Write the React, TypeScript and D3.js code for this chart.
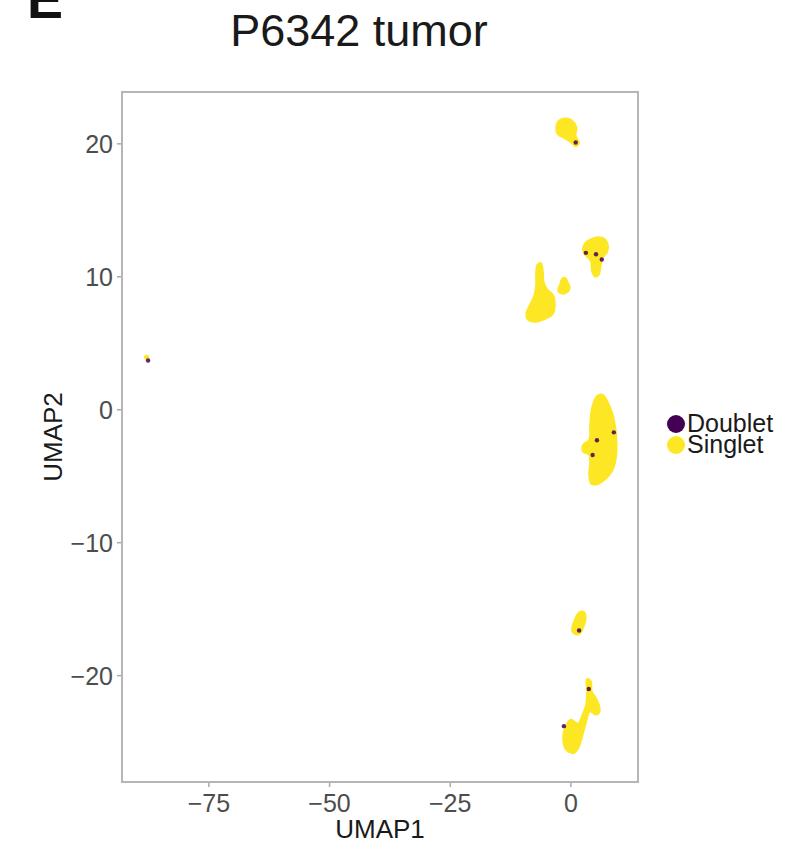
import React from "react";
import * as d3 from "d3";

// Cluster outlines (UMAP coordinates) of densely packed singlet cells
const clusterA: [number, number][] = [[-2.3,21.8],[-0.6,21.9],[0.6,21.65],[1.2,21.2],[1.0,20.6],[1.7,20.1],[1.0,19.8],[0.0,20.1],[-1.2,20.4],[-2.7,20.7],[-3.1,21.2]];
const clusterB: [number, number][] = [[3.9,12.8],[5.6,13.0],[7.0,12.85],[7.7,12.4],[7.45,11.8],[6.6,11.45],[6.2,10.85],[5.8,10.15],[5.0,10.0],[4.35,10.4],[4.15,11.15],[3.5,11.45],[2.7,11.75],[2.5,12.25],[3.1,12.6]];
const clusterC: [number, number][] = [[-7.0,10.9],[-6.2,11.05],[-5.8,10.5],[-5.6,9.6],[-4.75,9.0],[-3.7,8.65],[-3.3,7.9],[-3.7,7.2],[-5.2,6.85],[-7.25,6.6],[-8.9,6.75],[-9.3,7.2],[-8.5,7.9],[-7.65,8.55],[-7.25,9.4],[-7.25,10.15]];
const clusterD: [number, number][] = [[-1.85,9.85],[-1.05,9.92],[-0.6,9.55],[-0.2,9.25],[-0.6,8.87],[-1.85,8.72],[-2.7,8.95],[-2.3,9.4]];
const clusterE: [number, number][] = [[5.4,1.05],[6.6,1.13],[7.65,0.6],[8.7,-0.38],[9.3,-1.5],[9.5,-2.63],[9.3,-3.76],[8.5,-4.66],[7.05,-5.26],[5.2,-5.64],[4.15,-5.56],[3.75,-4.89],[3.95,-3.91],[3.75,-3.38],[2.5,-3.16],[2.5,-2.63],[3.75,-2.26],[3.95,-1.13],[4.35,0.15]];
const clusterF: [number, number][] = [[1.65,-15.25],[2.7,-15.2],[3.1,-15.55],[2.7,-16.25],[1.85,-16.85],[0.85,-16.9],[0.2,-16.6],[0.6,-15.95]];
const clusterG: [number, number][] = [[3.3,-20.25],[4.15,-20.4],[4.35,-21.2],[5.4,-21.8],[6.0,-22.7],[5.2,-22.95],[3.95,-22.7],[3.1,-23.6],[2.3,-24.65],[1.65,-25.4],[0.6,-25.85],[-1.05,-25.55],[-1.65,-24.8],[-1.25,-23.9],[0.0,-23.3],[1.45,-23.6],[2.3,-23.0],[3.1,-22.2],[3.3,-21.2]];
const singletClusters = [clusterA, clusterB, clusterC, clusterD, clusterE, clusterF, clusterG];

// Isolated singlet cells
const singletPoints: [number, number][] = [[-87.9, 3.95]];

// Doublet cells
const doubletPoints: [number, number][] = [[1.0,20.1],[3.1,11.8],[5.2,11.7],[6.4,11.3],[5.4,-2.3],[4.5,-3.4],[8.9,-1.7],[1.7,-16.6],[3.7,-21.0],[-1.45,-23.8],[-87.6,3.7]];

const xTicks = [-75, -50, -25, 0];
const yTicks = [20, 10, 0, -10, -20];
const legendLabels = ["Doublet", "Singlet"];
const legendColors = ["#440154", "#FDE725"];

const W = 786, H = 842;
const FONT = "'Liberation Sans', Arial, Helvetica, sans-serif";

export default function App() {
  const x = d3.scaleLinear().domain([-93, 13.9]).range([122, 638]);
  const y = d3.scaleLinear().domain([-28, 23.9]).range([782, 92]);
  const line = d3.line<[number, number]>()
    .x(d => x(d[0])).y(d => y(d[1]))
    .curve(d3.curveCatmullRomClosed.alpha(0.5));
  const [x0, x1] = x.range();
  const [y0, y1] = y.range();
  return (
    <svg width={W} height={H} style={{ position: "absolute", left: 0, top: 0, background: "#fff" }}
      fontFamily={FONT}>
      <text x={27} y={18} fontSize={54} fontWeight="bold" fill="#111">E</text>
      <text x={359} y={46} fontSize={45} textAnchor="middle" fill="#1a1a1a">P6342 tumor</text>

      {/* points */}
      <g>
        {singletClusters.map((c, i) => (
          <path key={i} d={line(c) || ""} fill={legendColors[1]} stroke={legendColors[1]} strokeWidth={1.5} />
        ))}
        {singletPoints.map((p, i) => (
          <circle key={i} cx={x(p[0])} cy={y(p[1])} r={2.6} fill={legendColors[1]} />
        ))}
        {doubletPoints.map((p, i) => (
          <circle key={i} cx={x(p[0])} cy={y(p[1])} r={2.2} fill={legendColors[0]} opacity={0.85} />
        ))}
      </g>

      {/* panel border */}
      <rect x={x0} y={y1} width={x1 - x0} height={y0 - y1} fill="none" stroke="#b5b5b5" strokeWidth={2} />

      {/* x axis */}
      {xTicks.map(t => (
        <g key={t}>
          <line x1={x(t)} x2={x(t)} y1={y0 + 1} y2={y0 + 5} stroke="#aaa" strokeWidth={1.5} />
          <text x={x(t)} y={812} fontSize={25} textAnchor="middle" fill="#4d4d4d">{t < 0 ? "\u2212" + Math.abs(t) : t}</text>
        </g>
      ))}
      <text x={(x0 + x1) / 2} y={838} fontSize={26} textAnchor="middle" fill="#1a1a1a">UMAP1</text>

      {/* y axis */}
      {yTicks.map(t => (
        <g key={t}>
          <line x1={x0 - 5} x2={x0 - 1} y1={y(t)} y2={y(t)} stroke="#aaa" strokeWidth={1.5} />
          <text x={113} y={y(t)} dy="0.36em" fontSize={25} textAnchor="end" fill="#4d4d4d">{t < 0 ? "\u2212" + Math.abs(t) : t}</text>
        </g>
      ))}
      <text transform={`translate(62,${(y0 + y1) / 2}) rotate(-90)`} fontSize={26} textAnchor="middle" fill="#1a1a1a">UMAP2</text>

      {/* legend */}
      {legendLabels.map((l, i) => (
        <g key={l}>
          <circle cx={676} cy={424 + i * 21} r={9} fill={legendColors[i]} />
          <text x={687} y={432 + i * 21} fontSize={25} fill="#1a1a1a">{l}</text>
        </g>
      ))}
    </svg>
  );
}
